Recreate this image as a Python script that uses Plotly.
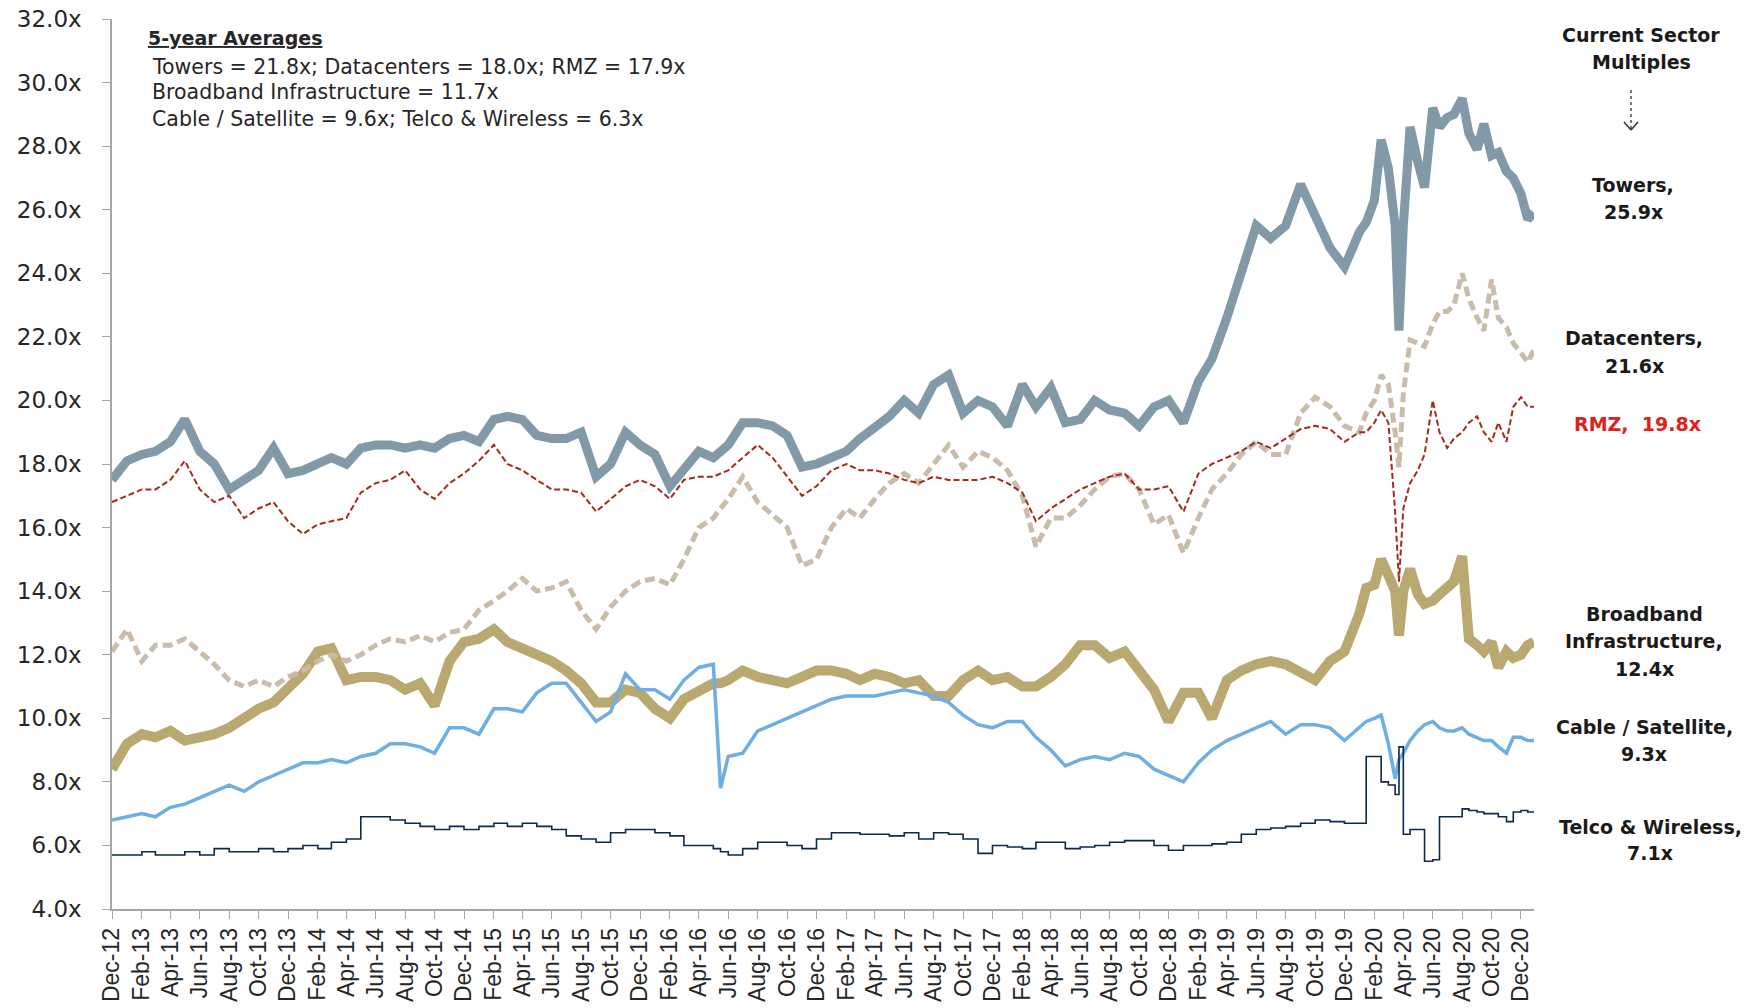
import pandas as pd
import plotly.graph_objects as go

# ---------------- dates (x categories) ----------------
monthly = list(pd.date_range("2012-12-01", "2019-12-01", freq="MS"))
semi_2020 = list(pd.date_range("2020-01-01", "2020-12-15", freq="SMS"))
extra = [pd.Timestamp("2016-05-16"), pd.Timestamp("2020-03-23"), pd.Timestamp("2020-12-28")]
dates = sorted(monthly + semi_2020 + extra)

# ---------------- series values (EV/EBITDA multiples, x) ----------------
towers = [
    17.5, 18.1, 18.3, 18.4, 18.7, 19.4, 18.4, 18.0, 17.2, 17.5, 17.8, 18.5, 17.7,
    17.8, 18.0, 18.2, 18.0, 18.5, 18.6, 18.6, 18.5, 18.6, 18.5, 18.8, 18.9,
    18.7, 19.4, 19.5, 19.4, 18.9, 18.8, 18.8, 19.0, 17.6, 18.0, 19.0, 18.6,
    18.3, 17.3, 17.8, 18.4, 18.2, 18.4, 18.6, 19.3, 19.3, 19.2, 18.9, 17.9, 18.0,
    18.2, 18.4, 18.8, 19.2, 19.5, 20.0, 19.6, 20.5, 20.8, 19.6, 20.0, 19.8,
    19.2, 20.5, 19.8, 20.4, 19.3, 19.4, 20.0, 19.7, 19.6, 19.2, 19.8, 20.0,
    19.3, 20.6, 21.3, 22.6, 24.0, 25.5, 25.1, 25.5, 26.8, 25.8, 24.8, 24.2,
    25.3, 25.6, 26.3, 28.2, 27.3, 25.5, 22.2, 25.5, 28.6, 27.5, 26.7, 29.2, 28.6,
    28.9, 29.0, 29.5, 28.4, 27.9, 28.7, 27.7, 27.8, 27.2, 27.0, 26.5, 25.7, 25.9,
]
datacenters = [
    12.1, 12.8, 11.8, 12.3, 12.3, 12.5, 12.1, 11.7, 11.2, 11.0, 11.2, 11.0, 11.3,
    11.5, 11.8, 12.0, 11.8, 12.0, 12.3, 12.5, 12.4, 12.6, 12.4, 12.7, 12.8,
    13.4, 13.7, 14.0, 14.4, 14.0, 14.1, 14.3, 13.4, 12.8, 13.5, 14.0, 14.3,
    14.4, 14.2, 15.0, 16.0, 16.3, 16.6, 16.9, 17.6, 16.8, 16.4, 16.0, 14.8, 15.0,
    16.0, 16.6, 16.3, 16.9, 17.4, 17.7, 17.4, 18.0, 18.6, 17.9, 18.4, 18.2,
    17.8, 17.0, 15.4, 16.3, 16.3, 16.7, 17.2, 17.6, 17.7, 17.2, 16.1, 16.4,
    15.2, 16.3, 17.2, 17.7, 18.3, 18.7, 18.3, 18.3, 19.6, 20.1, 19.8, 19.2,
    19.0, 19.6, 20.0, 20.8, 20.5, 19.0, 17.9, 20.2, 21.9, 21.8, 21.7, 22.4, 22.8,
    22.8, 23.0, 24.0, 23.2, 22.6, 22.2, 23.8, 22.6, 22.3, 21.8, 21.5, 21.2, 21.6,
]
rmz = [
    16.8, 17.0, 17.2, 17.2, 17.5, 18.1, 17.2, 16.8, 17.0, 16.3, 16.6, 16.8, 16.2,
    15.8, 16.1, 16.2, 16.3, 17.1, 17.4, 17.5, 17.8, 17.2, 16.9, 17.4, 17.7,
    18.1, 18.6, 18.0, 17.8, 17.5, 17.2, 17.2, 17.1, 16.5, 16.9, 17.3, 17.5,
    17.3, 16.9, 17.5, 17.6, 17.6, 17.7, 17.8, 18.2, 18.6, 18.2, 17.6, 17.0, 17.3,
    17.8, 18.0, 17.8, 17.8, 17.7, 17.5, 17.4, 17.6, 17.5, 17.5, 17.5, 17.6,
    17.4, 17.1, 16.2, 16.6, 16.9, 17.2, 17.4, 17.6, 17.7, 17.2, 17.2, 17.3,
    16.5, 17.7, 18.0, 18.2, 18.4, 18.7, 18.5, 18.8, 19.1, 19.2, 19.1, 18.7,
    19.0, 19.0, 19.3, 19.7, 19.3, 16.5, 14.3, 16.6, 17.4, 17.8, 18.3, 20.0, 19.0,
    18.5, 18.8, 19.0, 19.3, 19.5, 19.0, 18.7, 19.3, 18.7, 19.8, 20.1, 19.8, 19.8,
]
broadband = [
    8.4, 9.2, 9.5, 9.4, 9.6, 9.3, 9.4, 9.5, 9.7, 10.0, 10.3, 10.5, 10.9,
    11.4, 12.1, 12.2, 11.2, 11.3, 11.3, 11.2, 10.9, 11.1, 10.4, 11.8, 12.4,
    12.5, 12.8, 12.4, 12.2, 12.0, 11.8, 11.5, 11.1, 10.5, 10.5, 10.9, 10.8,
    10.3, 10.0, 10.6, 10.9, 11.1, 11.1, 11.2, 11.5, 11.3, 11.2, 11.1, 11.3, 11.5,
    11.5, 11.4, 11.2, 11.4, 11.3, 11.1, 11.2, 10.7, 10.7, 11.2, 11.5, 11.2,
    11.3, 11.0, 11.0, 11.3, 11.7, 12.3, 12.3, 11.9, 12.1, 11.5, 10.9, 9.9,
    10.8, 10.8, 10.0, 11.2, 11.5, 11.7, 11.8, 11.7, 11.4, 11.2, 11.8, 12.1,
    13.3, 14.1, 14.2, 15.0, 14.5, 14.0, 12.6, 14.0, 14.7, 13.9, 13.6, 13.7, 13.9,
    14.1, 14.3, 15.1, 12.5, 12.3, 12.1, 12.4, 11.6, 12.1, 11.9, 12.0, 12.3, 12.4,
]
cable = [
    6.8, 6.9, 7.0, 6.9, 7.2, 7.3, 7.5, 7.7, 7.9, 7.7, 8.0, 8.2, 8.4,
    8.6, 8.6, 8.7, 8.6, 8.8, 8.9, 9.2, 9.2, 9.1, 8.9, 9.7, 9.7,
    9.5, 10.3, 10.3, 10.2, 10.8, 11.1, 11.1, 10.5, 9.9, 10.2, 11.4, 10.9,
    10.9, 10.6, 11.2, 11.6, 11.7, 7.8, 8.8, 8.9, 9.6, 9.8, 10.0, 10.2, 10.4,
    10.6, 10.7, 10.7, 10.7, 10.8, 10.9, 10.8, 10.7, 10.5, 10.1, 9.8, 9.7,
    9.9, 9.9, 9.4, 9.0, 8.5, 8.7, 8.8, 8.7, 8.9, 8.8, 8.4, 8.2,
    8.0, 8.6, 9.0, 9.3, 9.5, 9.7, 9.9, 9.5, 9.8, 9.8, 9.7, 9.3,
    9.7, 9.9, 10.0, 10.1, 9.2, 8.1, 8.7, 8.9, 9.3, 9.6, 9.8, 9.9, 9.7,
    9.6, 9.6, 9.7, 9.5, 9.4, 9.3, 9.3, 9.1, 8.9, 9.4, 9.4, 9.3, 9.3,
]
telco = [
    5.7, 5.7, 5.8, 5.7, 5.7, 5.8, 5.7, 5.9, 5.8, 5.8, 5.9, 5.8, 5.9,
    6.0, 5.9, 6.1, 6.2, 6.9, 6.9, 6.8, 6.7, 6.6, 6.5, 6.6, 6.5,
    6.6, 6.7, 6.6, 6.7, 6.6, 6.5, 6.3, 6.2, 6.1, 6.4, 6.5, 6.5,
    6.4, 6.3, 6.0, 6.0, 5.9, 5.8, 5.7, 5.9, 6.1, 6.1, 6.0, 5.9, 6.2,
    6.4, 6.4, 6.35, 6.35, 6.3, 6.4, 6.2, 6.4, 6.35, 6.2, 5.75, 6.0,
    5.95, 5.9, 6.1, 6.1, 5.9, 5.95, 6.0, 6.1, 6.15, 6.15, 6.0, 5.85,
    6.0, 6.0, 6.05, 6.1, 6.35, 6.5, 6.55, 6.6, 6.7, 6.8, 6.75, 6.7,
    6.7, 8.8, 8.8, 8.0, 7.9, 7.6, 9.1, 6.35, 6.5, 6.5, 5.5, 5.55, 6.9,
    6.9, 6.9, 7.15, 7.1, 7.05, 7.0, 7.0, 6.9, 6.75, 7.05, 7.1, 7.05, 7.05,
]

for s in (towers, datacenters, rmz, broadband, cable, telco):
    assert len(s) == len(dates), (len(s), len(dates))

# ---------------- text ----------------
avg_title = "5-year Averages"
avg_lines = [
    "Towers = 21.8x; Datacenters = 18.0x; RMZ = 17.9x",
    "Broadband Infrastructure = 11.7x",
    "Cable / Satellite = 9.6x; Telco & Wireless = 6.3x",
]

# ---------------- figure geometry (page pixels; body margin removed) ----------------
W, H = 1756, 1008
PL, PR, PT, PB = 112, 1534, 19, 909  # plot area edges


def px_x(X):
    return (X - PL) / (PR - PL)


def px_y(Y):
    return (PB - Y) / (PB - PT)


fig = go.Figure()

series = [
    ("Broadband Infrastructure", broadband, "#B9A870", 10, "solid", "linear"),
    ("Datacenters", datacenters, "#C9BCAA", 5, "10px,5px", "linear"),
    ("Towers", towers, "#8299A8", 9, "solid", "linear"),
    ("Cable / Satellite", cable, "#6DAEE3", 3.5, "solid", "linear"),
    ("RMZ", rmz, "#A52A1A", 2, "6px,3px", "linear"),
    ("Telco & Wireless", telco, "#0C2A4C", 1.6, "solid", "hv"),
]
for name, vals, color, width, dash, shape in series:
    fig.add_trace(go.Scatter(
        x=dates, y=vals, name=name, mode="lines",
        line=dict(color=color, width=width, dash=dash, shape=shape),
        hoverinfo="skip", showlegend=False,
    ))

axis_col = "#A6A6A6"
fig.update_layout(
    width=W, height=H,
    margin=dict(l=PL, r=W - PR, t=PT, b=H - PB, autoexpand=False),
    paper_bgcolor="white", plot_bgcolor="white",
    font=dict(family="DejaVu Sans", color="#262626"),
    showlegend=False,
)
fig.update_xaxes(
    type="date", range=["2012-12-01", "2020-12-28"],
    tick0="2012-12-01", dtick="M2", tickformat="%b-%y", tickangle=-90,
    showline=True, linecolor=axis_col, linewidth=1.5,
    ticks="outside", ticklen=8, tickcolor=axis_col, tickwidth=1.2,
    showgrid=False, zeroline=False, automargin=False,
    tickfont=dict(family="Liberation Sans", size=23, color="#262626"),
)
fig.update_yaxes(
    range=[4, 32], dtick=2, tick0=4, tickformat=".1f", ticksuffix="x",
    showline=True, linecolor=axis_col, linewidth=1.5,
    ticks="outside", ticklen=8, tickcolor=axis_col, tickwidth=1.2,
    showgrid=False, zeroline=False, automargin=False, ticklabelstandoff=16,
    ticklabeloverflow="allow",
    tickfont=dict(family="DejaVu Sans", size=23, color="#262626"),
)

ann = []
ann.append(dict(text="<b><u>" + avg_title + "</u></b>", x=px_x(146), y=px_y(38),
                font=dict(size=19, family="DejaVu Sans", color="#262626")))
for i, line in enumerate(avg_lines):
    ann.append(dict(text=line, x=px_x(150), y=px_y([67, 92, 119][i]),
                    font=dict(size=20.5, family="DejaVu Sans", color="#262626")))
for a in ann:
    a.update(xref="paper", yref="paper", xanchor="left", yanchor="middle", showarrow=False)

right_labels = [
    ("Current Sector", 1641, 35, "#1a1a1a"),
    ("Multiples", 1641, 62, "#1a1a1a"),
    ("Towers,", 1633, 185, "#1a1a1a"),
    ("25.9x", 1633, 212, "#1a1a1a"),
    ("Datacenters,", 1634, 338, "#1a1a1a"),
    ("21.6x", 1634, 366, "#1a1a1a"),
    ("RMZ,  19.8x", 1637, 424, "#E0201B"),
    ("Broadband", 1644, 614, "#1a1a1a"),
    ("Infrastructure,", 1644, 641, "#1a1a1a"),
    ("12.4x", 1644, 669, "#1a1a1a"),
    ("Cable / Satellite,", 1644, 727, "#1a1a1a"),
    ("9.3x", 1644, 754, "#1a1a1a"),
    ("Telco & Wireless,", 1650, 827, "#1a1a1a"),
    ("7.1x", 1650, 853, "#1a1a1a"),
]
for txt, X, Y, col in right_labels:
    ann.append(dict(text="<b>" + txt + "</b>", x=px_x(X), y=px_y(Y),
                    xref="paper", yref="paper", xanchor="center", yanchor="middle",
                    showarrow=False, font=dict(size=19, family="DejaVu Sans", color=col)))
fig.update_layout(annotations=ann)

# dashed arrow under "Current Sector Multiples"
ax = 1631
fig.add_shape(type="line", xref="paper", yref="paper",
              x0=px_x(ax), x1=px_x(ax), y0=px_y(90), y1=px_y(129),
              line=dict(color="#333333", width=1.3, dash="3px,3px"))
fig.add_shape(type="line", xref="paper", yref="paper",
              x0=px_x(ax - 7), x1=px_x(ax), y0=px_y(122), y1=px_y(130),
              line=dict(color="#333333", width=1.5))
fig.add_shape(type="line", xref="paper", yref="paper",
              x0=px_x(ax + 7), x1=px_x(ax), y0=px_y(122), y1=px_y(130),
              line=dict(color="#333333", width=1.5))

fig.write_html(
    "out.html",
    config={"displayModeBar": False},
    post_script="document.body.style.margin='0px';document.body.style.overflow='hidden';",
)
